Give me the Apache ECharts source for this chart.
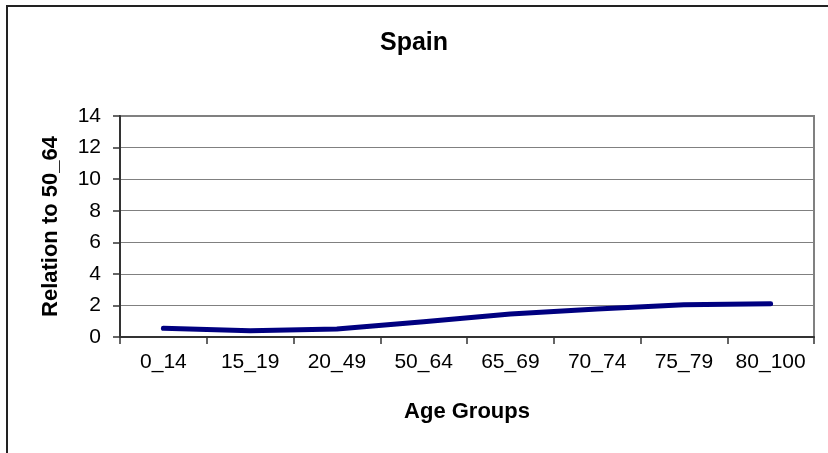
<!DOCTYPE html>
<html>
<head>
<meta charset="utf-8">
<script src="https://cdn.jsdelivr.net/npm/echarts@6/dist/echarts.min.js"></script>
<style>
  html, body { margin: 0; padding: 0; background: #fff; }
  #chart { width: 828px; height: 453px; }
</style>
</head>
<body>
<div id="chart"></div>
<script>
var ageGroups = ['0_14', '15_19', '20_49', '50_64', '65_69', '70_74', '75_79', '80_100'];
var relationValues = [0.55, 0.4, 0.5, 0.97, 1.46, 1.78, 2.05, 2.1];
var yTicks = { min: 0, max: 14, interval: 2 };

var font = 'Liberation Sans, Arial, sans-serif';
var myChart = echarts.init(document.getElementById('chart'));

var option = {
  animation: false,
  backgroundColor: '#fff',
  title: {
    text: 'Spain',
    left: 'center',
    top: 26,
    textStyle: { fontFamily: font, fontSize: 25, fontWeight: 'bold', color: '#000' }
  },
  graphic: [
    {
      type: 'rect',
      shape: { x: 7, y: 6, width: 900, height: 500 },
      style: { fill: 'none', stroke: '#222', lineWidth: 2 },
      silent: true
    }
  ],
  grid: {
    left: 120,
    right: 14,
    top: 116,
    bottom: 116,
    show: true,
    borderColor: '#808080',
    borderWidth: 2
  },
  xAxis: {
    type: 'category',
    data: ageGroups,
    boundaryGap: true,
    name: 'Age Groups',
    nameLocation: 'middle',
    nameGap: 64,
    nameTextStyle: { fontFamily: font, fontSize: 22, fontWeight: 'bold', color: '#000' },
    axisLine: { lineStyle: { color: '#333', width: 2 } },
    axisTick: { show: true, length: 7, alignWithLabel: false, lineStyle: { color: '#333', width: 1.5 } },
    axisLabel: { fontFamily: font, fontSize: 21, color: '#000', margin: 15, interval: 0 }
  },
  yAxis: {
    type: 'value',
    min: yTicks.min,
    max: yTicks.max,
    interval: yTicks.interval,
    name: 'Relation to 50_64',
    nameLocation: 'middle',
    nameGap: 58,
    nameTextStyle: { fontFamily: font, fontSize: 22, fontWeight: 'bold', color: '#000' },
    axisLine: { show: true, lineStyle: { color: '#333', width: 2 } },
    axisTick: { show: true, length: 7, lineStyle: { color: '#333', width: 1.5 } },
    axisLabel: { fontFamily: font, fontSize: 21, color: '#000', margin: 19 },
    splitLine: { show: true, lineStyle: { color: '#808080', width: 1 } }
  },
  series: [
    {
      type: 'line',
      data: relationValues,
      showSymbol: false,
      symbol: 'none',
      lineStyle: { color: '#000080', width: 5, cap: 'round', join: 'round' }
    }
  ]
};

myChart.setOption(option);
</script>
</body>
</html>
